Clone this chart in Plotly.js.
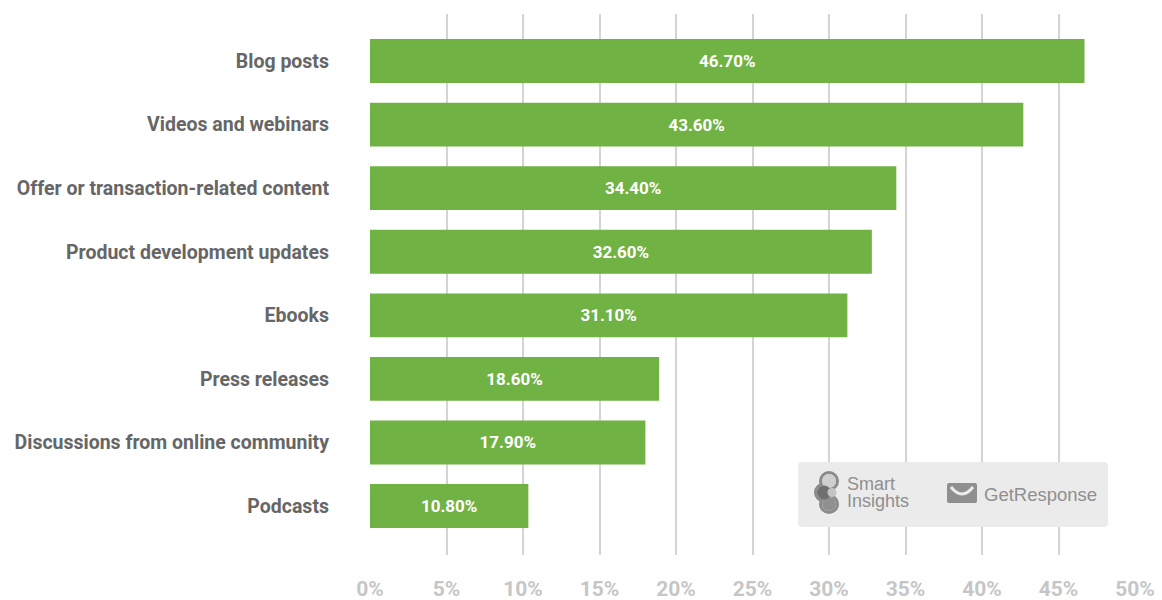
<!DOCTYPE html>
<html>
<head>
<meta charset="utf-8">
<script src="https://cdn.plot.ly/plotly-3.0.1.min.js"></script>
<style>
html,body{margin:0;padding:0;background:#fff;}
#chart{width:1162px;height:600px;}
</style>
</head>
<body>
<div id="chart"></div>
<script>
const categories = ["Blog posts","Videos and webinars","Offer or transaction-related content","Product development updates","Ebooks","Press releases","Discussions from online community","Podcasts"];
const barValues = [46.7, 42.7, 34.4, 32.8, 31.2, 18.9, 18.0, 10.35];
const valueLabels = ["46.70%","43.60%","34.40%","32.60%","31.10%","18.60%","17.90%","10.80%"];
const tickVals = [0,5,10,15,20,25,30,35,40,45,50];
const tickText = ["0%","5%","10%","15%","20%","25%","30%","35%","40%","45%","50%"];

const FONT = 'Roboto, "Liberation Sans", Arial, sans-serif';
const LOGOFONT = '"Liberation Sans", Arial, sans-serif';
const L = 370, R = 1135, T = 14, B = 555;
const px = x => (x - L) / (R - L);
const py = y => (B - y) / (B - T);

const trace = {
  type: 'bar', orientation: 'h',
  x: barValues, y: categories,
  text: valueLabels, textposition: 'inside', insidetextanchor: 'middle',
  textfont: {family: FONT, size: 17, color: '#ffffff', weight: 'bold'},
  marker: {color: '#71b244'},
  hoverinfo: 'none', cliponaxis: false
};

function roundRect(x0, y0, x1, y1, r) {
  const X = v => px(v), Y = v => py(v);
  return `M ${X(x0+r)} ${Y(y0)} L ${X(x1-r)} ${Y(y0)} Q ${X(x1)} ${Y(y0)} ${X(x1)} ${Y(y0+r)} ` +
         `L ${X(x1)} ${Y(y1-r)} Q ${X(x1)} ${Y(y1)} ${X(x1-r)} ${Y(y1)} ` +
         `L ${X(x0+r)} ${Y(y1)} Q ${X(x0)} ${Y(y1)} ${X(x0)} ${Y(y1-r)} ` +
         `L ${X(x0)} ${Y(y0+r)} Q ${X(x0)} ${Y(y0)} ${X(x0+r)} ${Y(y0)} Z`;
}
function circ(cx, cy, r, fill, line, lw) {
  return {type:'circle', xref:'paper', yref:'paper', x0:px(cx-r), x1:px(cx+r), y0:py(cy+r), y1:py(cy-r),
          fillcolor: fill, line: lw ? {color: line, width: lw} : {width: 0}};
}

const shapes = [
  {type:'path', xref:'paper', yref:'paper', path: roundRect(798, 462, 1108, 527, 4), fillcolor:'#ebebeb', line:{width:0}, layer:'above'},
  // Smart Insights icon: outline then fills
  circ(829, 481, 8.5, '#ebebeb', '#8a8a8a', 3),
  circ(824, 492.5, 8.5, '#ebebeb', '#8a8a8a', 3),
  circ(829, 504, 8.5, '#ebebeb', '#8a8a8a', 3),
  circ(829, 481, 7, '#cfcfcf'),
  circ(829, 504, 7, '#909090'),
  circ(824, 492.5, 7, '#6f6f6f'),
  circ(832, 492.5, 4.5, '#c4c4c4'),
  // GetResponse envelope
  {type:'path', xref:'paper', yref:'paper', path: roundRect(947, 483, 977, 503, 2), fillcolor:'#8f8f8f', line:{width:0}},
  {type:'path', xref:'paper', yref:'paper', path:`M ${px(951)} ${py(487)} Q ${px(962)} ${py(501)} ${px(973)} ${py(487)}`, fillcolor:'rgba(0,0,0,0)', line:{color:'#ebebeb', width:3}}
];

const annotations = [
  {xref:'paper', yref:'paper', x:px(845), y:py(484), text:'Smart', showarrow:false, xanchor:'left', yanchor:'middle', font:{family: LOGOFONT, size:18, color:'#8f8f8f'}},
  {xref:'paper', yref:'paper', x:px(845), y:py(501), text:'Insights', showarrow:false, xanchor:'left', yanchor:'middle', font:{family: LOGOFONT, size:18, color:'#8f8f8f'}},
  {xref:'paper', yref:'paper', x:px(982), y:py(494), text:'GetResponse', showarrow:false, xanchor:'left', yanchor:'middle', font:{family: LOGOFONT, size:18.5, color:'#8f8f8f'}}
];

const layout = {
  width: 1162, height: 600,
  margin: {l: L, r: 1162 - R, t: T, b: 600 - B},
  paper_bgcolor: '#ffffff', plot_bgcolor: '#ffffff',
  showlegend: false,
  bargap: 0.31,
  xaxis: {
    range: [0, 50], tickvals: tickVals, ticktext: tickText,
    showgrid: true, gridcolor: '#d4d4d4', gridwidth: 2, zeroline: false,
    showline: false, ticks: '', ticklabelstandoff: 19,
    tickfont: {family: FONT, size: 21, color: '#c6c6c6', weight: 'bold'}, fixedrange: true
  },
  yaxis: {
    type: 'category', range: [7.77, -0.74],
    showgrid: false, zeroline: false, showline: false, ticks: '',
    ticklabelstandoff: 40,
    tickfont: {family: FONT, size: 19.5, color: '#666666', weight: 'bold'}, fixedrange: true
  },
  shapes: shapes,
  annotations: annotations
};

Plotly.newPlot('chart', [trace], layout, {displayModeBar: false, staticPlot: true});
</script>
</body>
</html>
